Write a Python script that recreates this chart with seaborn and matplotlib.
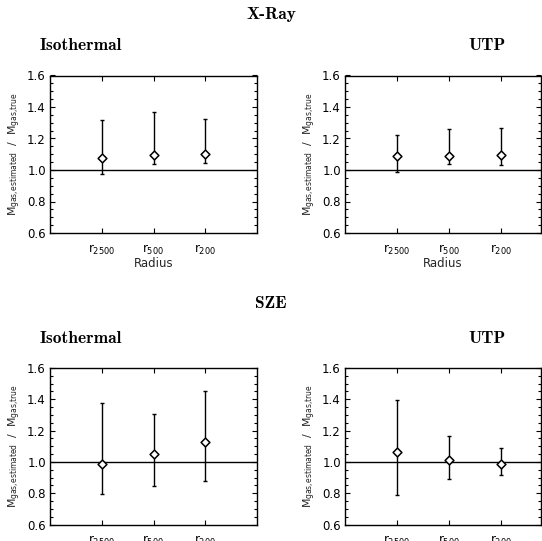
import numpy as np
import pandas as pd
import seaborn as sns
import matplotlib.pyplot as plt
from matplotlib.ticker import MultipleLocator, AutoMinorLocator, NullLocator

# values (ratio estimated / true gas mass)
radius_labels = [r"$\mathrm{r}_{2500}$", r"$\mathrm{r}_{500}$", r"$\mathrm{r}_{200}$"]
radius_pos = [1, 2, 3]

xray_iso_mid = [1.079, 1.094, 1.104]
xray_iso_lo = [0.972, 1.038, 1.047]
xray_iso_hi = [1.315, 1.366, 1.325]

xray_utp_mid = [1.089, 1.089, 1.096]
xray_utp_lo = [0.989, 1.036, 1.030]
xray_utp_hi = [1.221, 1.260, 1.268]

sze_iso_mid = [0.985, 1.051, 1.126]
sze_iso_lo = [0.797, 0.848, 0.880]
sze_iso_hi = [1.374, 1.307, 1.455]

sze_utp_mid = [1.064, 1.010, 0.989]
sze_utp_lo = [0.788, 0.889, 0.917]
sze_utp_hi = [1.393, 1.168, 1.087]

sns.set_style("ticks")
plt.rcParams["font.family"] = ["DejaVu Sans"]
plt.rcParams["mathtext.fontset"] = "dejavusans"

fig = plt.figure(figsize=(5.42, 5.41), dpi=100)
W, H = 542, 541


def box(left, top, right, bottom):
    return [left / W, (H - bottom) / H, (right - left) / W, (bottom - top) / H]


def panel(ax, mid, lo, hi, xmax, xlabel):
    df = pd.DataFrame({"pos": radius_pos, "mid": mid, "lo": lo, "hi": hi})
    ax.axhline(1.0, color="black", lw=1.0, zorder=1)
    ax.errorbar(df["pos"], df["mid"],
                yerr=[df["mid"] - df["lo"], df["hi"] - df["mid"]],
                fmt="none", ecolor="black", elinewidth=1.0,
                capsize=1.2, capthick=1.0, zorder=2)
    sns.scatterplot(data=df, x="pos", y="mid", marker="D", s=20,
                    color="white", edgecolor="black", linewidth=1.1,
                    ax=ax, zorder=3)
    ax.set_xlim(0, xmax)
    ax.set_ylim(0.6, 1.6)
    ax.set_xticks(radius_pos)
    ax.set_xticklabels(radius_labels, fontsize=8)
    ax.xaxis.set_minor_locator(NullLocator())
    ax.yaxis.set_major_locator(MultipleLocator(0.2))
    ax.yaxis.set_minor_locator(AutoMinorLocator(4))
    ax.yaxis.set_major_formatter(plt.FormatStrFormatter("%.1f"))
    ax.tick_params(axis="both", which="both", direction="in",
                   top=True, right=True, width=0.8, colors="black")
    ax.tick_params(axis="both", which="major", length=3.5, labelsize=8.5)
    ax.tick_params(axis="x", which="major", pad=7)
    ax.tick_params(axis="y", which="major", pad=3)
    ax.tick_params(axis="y", which="minor", length=2)
    ax.set_xlabel("Radius" if xlabel else "", fontsize=8.5, labelpad=0)
    ax.set_ylabel(r"$\mathrm{M}_{\mathrm{gas{,}estimated}}$  /  $\mathrm{M}_{\mathrm{gas{,}true}}$",
                  fontsize=7.8, labelpad=3)
    for sp in ax.spines.values():
        sp.set_linewidth(1.0)
        sp.set_color("black")


ax1 = fig.add_axes(box(50, 75.5, 257, 233))
ax2 = fig.add_axes(box(345, 75.5, 540.5, 233))
ax3 = fig.add_axes(box(50, 368, 257, 524.5))
ax4 = fig.add_axes(box(345, 368, 540.5, 524.5))

panel(ax1, xray_iso_mid, xray_iso_lo, xray_iso_hi, 4.0, True)
panel(ax2, xray_utp_mid, xray_utp_lo, xray_utp_hi, 3.76, True)
panel(ax3, sze_iso_mid, sze_iso_lo, sze_iso_hi, 4.0, False)
panel(ax4, sze_utp_mid, sze_utp_lo, sze_utp_hi, 3.76, False)

title_kw = dict(fontfamily="cmb10", fontsize=12.5, color="black")
fig.text(0.5, 1 - 14 / H, "X-Ray", ha="center", va="center", **title_kw)
fig.text(40 / W, 1 - 50 / H, "Isothermal", ha="left", va="baseline", **title_kw)
fig.text(487 / W, 1 - 50 / H, "UTP", ha="center", va="baseline", **title_kw)
fig.text(0.5, 1 - 304 / H, "SZE", ha="center", va="center", **title_kw)
fig.text(40 / W, 1 - 343 / H, "Isothermal", ha="left", va="baseline", **title_kw)
fig.text(487 / W, 1 - 343 / H, "UTP", ha="center", va="baseline", **title_kw)

fig.savefig("out.png", dpi=100, facecolor="white")
